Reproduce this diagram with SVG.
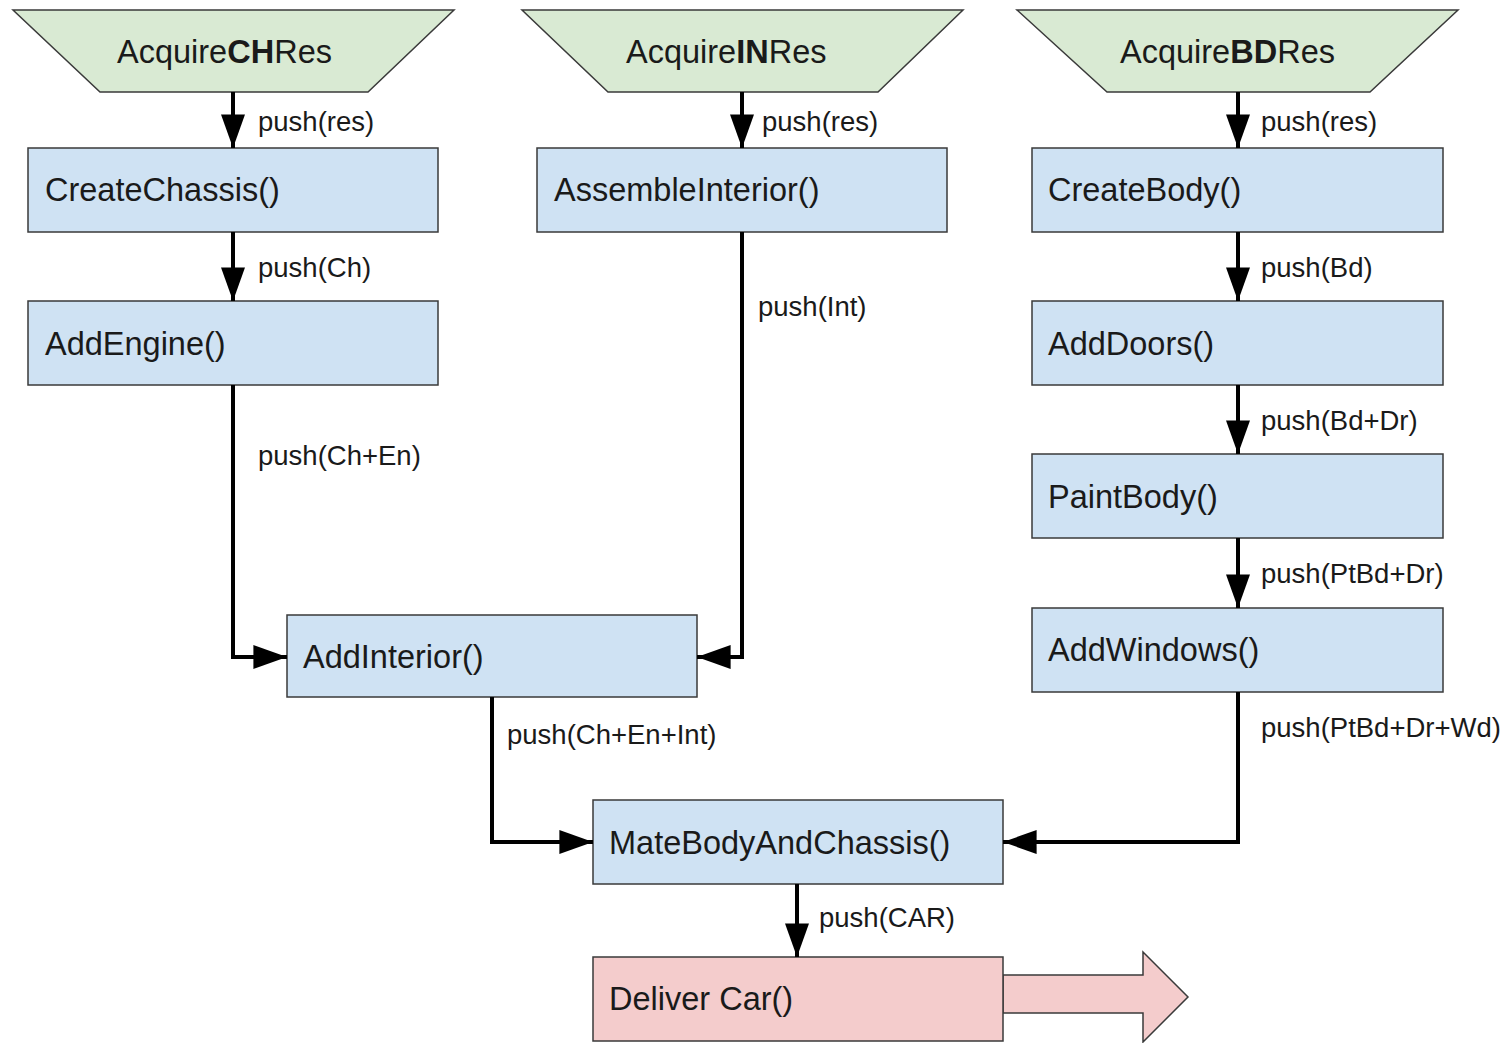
<svg xmlns="http://www.w3.org/2000/svg" width="1508" height="1043" viewBox="0 0 1508 1043">
  <style>
    .src { fill: #d9ead3; stroke: #3a3a3a; stroke-width: 1.5; }
    .step { fill: #cfe2f3; stroke: #3a3a3a; stroke-width: 1.5; }
    .out { fill: #f4cccc; stroke: #3a3a3a; stroke-width: 1.5; }
    .name { font-family: "Liberation Sans", Arial, sans-serif; font-size: 32.5px; fill: #1a1a1a; }
    .lbl { font-family: "Liberation Sans", Arial, sans-serif; font-size: 27.5px; fill: #1a1a1a; }
    .wire { fill: none; stroke: #000; stroke-width: 4; marker-end: url(#head); }
  </style>
  <defs>
    <marker id="head" viewBox="0 0 14 10" refX="14" refY="5" markerWidth="8.4" markerHeight="6" markerUnits="strokeWidth" orient="auto">
      <path d="M0,0 L14,5 L0,10 z" fill="#000"/>
    </marker>
  </defs>
  <rect width="1508" height="1043" fill="#fff"/>

  <!-- resource sources -->
  <g id="acquire-ch">
    <polygon class="src" points="13,10 454,10 368,92 100,92"/>
    <text class="name" x="117" y="63">Acquire<tspan font-weight="bold">CH</tspan>Res</text>
  </g>
  <g id="acquire-in">
    <polygon class="src" points="522,10 963,10 878,92 608,92"/>
    <text class="name" x="626" y="63">Acquire<tspan font-weight="bold">IN</tspan>Res</text>
  </g>
  <g id="acquire-bd">
    <polygon class="src" points="1017,10 1458,10 1370,92 1107,92"/>
    <text class="name" x="1120" y="63">Acquire<tspan font-weight="bold">BD</tspan>Res</text>
  </g>

  <!-- chassis line -->
  <g id="create-chassis">
    <rect class="step" x="28" y="148" width="410" height="84"/>
    <text class="name" x="45" y="201">CreateChassis()</text>
  </g>
  <g id="add-engine">
    <rect class="step" x="28" y="301" width="410" height="84"/>
    <text class="name" x="45" y="355">AddEngine()</text>
  </g>

  <!-- interior line -->
  <g id="assemble-interior">
    <rect class="step" x="537" y="148" width="410" height="84"/>
    <text class="name" x="554" y="201">AssembleInterior()</text>
  </g>
  <g id="add-interior">
    <rect class="step" x="287" y="615" width="410" height="82"/>
    <text class="name" x="303" y="668">AddInterior()</text>
  </g>

  <!-- body line -->
  <g id="create-body">
    <rect class="step" x="1032" y="148" width="411" height="84"/>
    <text class="name" x="1048" y="201">CreateBody()</text>
  </g>
  <g id="add-doors">
    <rect class="step" x="1032" y="301" width="411" height="84"/>
    <text class="name" x="1048" y="355">AddDoors()</text>
  </g>
  <g id="paint-body">
    <rect class="step" x="1032" y="454" width="411" height="84"/>
    <text class="name" x="1048" y="508">PaintBody()</text>
  </g>
  <g id="add-windows">
    <rect class="step" x="1032" y="608" width="411" height="84"/>
    <text class="name" x="1048" y="661">AddWindows()</text>
  </g>

  <!-- final assembly -->
  <g id="mate-body-chassis">
    <rect class="step" x="593" y="800" width="410" height="84"/>
    <text class="name" x="609" y="854">MateBodyAndChassis()</text>
  </g>
  <g id="deliver-car">
    <polygon class="out" points="1003,975 1143,975 1143,952 1188,997 1143,1042 1143,1013 1003,1013"/>
    <rect class="out" x="593" y="957" width="410" height="84"/>
    <text class="name" x="609" y="1010">Deliver Car()</text>
  </g>

  <!-- connectors -->
  <g id="connectors">
    <path class="wire" d="M233,92 V148"/>
    <path class="wire" d="M233,232 V301"/>
    <path class="wire" d="M233,385 V657 H287"/>
    <path class="wire" d="M742,92 V148"/>
    <path class="wire" d="M742,232 V657 H697"/>
    <path class="wire" d="M1238,92 V148"/>
    <path class="wire" d="M1238,232 V301"/>
    <path class="wire" d="M1238,385 V454"/>
    <path class="wire" d="M1238,538 V608"/>
    <path class="wire" d="M1238,692 V842 H1003"/>
    <path class="wire" d="M492,697 V842 H593"/>
    <path class="wire" d="M797,884 V957"/>

    <text class="lbl" x="258" y="131">push(res)</text>
    <text class="lbl" x="258" y="277">push(Ch)</text>
    <text class="lbl" x="258" y="465">push(Ch+En)</text>
    <text class="lbl" x="762" y="131">push(res)</text>
    <text class="lbl" x="758" y="316">push(Int)</text>
    <text class="lbl" x="1261" y="131">push(res)</text>
    <text class="lbl" x="1261" y="277">push(Bd)</text>
    <text class="lbl" x="1261" y="430">push(Bd+Dr)</text>
    <text class="lbl" x="1261" y="583">push(PtBd+Dr)</text>
    <text class="lbl" x="1261" y="737">push(PtBd+Dr+Wd)</text>
    <text class="lbl" x="507" y="744">push(Ch+En+Int)</text>
    <text class="lbl" x="819" y="927">push(CAR)</text>
  </g>
</svg>
